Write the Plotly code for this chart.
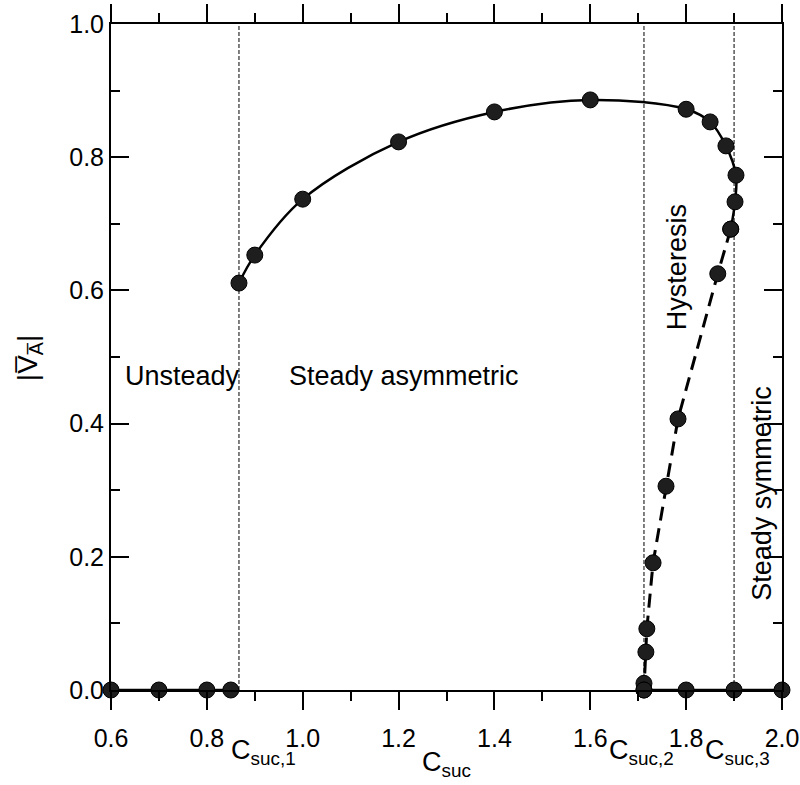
import plotly.graph_objects as go

# Stable asymmetric branch (solid curve)
asym_x = [0.867, 0.900, 1.000, 1.200, 1.400, 1.600, 1.800, 1.850, 1.883, 1.904, 1.902, 1.893]
asym_y = [0.611, 0.653, 0.737, 0.823, 0.868, 0.886, 0.872, 0.853, 0.817, 0.773, 0.733, 0.692]

# Hysteresis branch (dashed)
hyst_x = [1.893, 1.866, 1.783, 1.758, 1.731, 1.718, 1.716, 1.712, 1.712]
hyst_y = [0.692, 0.625, 0.407, 0.306, 0.191, 0.092, 0.057, 0.010, 0.000]

# Zero-amplitude branches
unsteady_x = [0.60, 0.70, 0.80, 0.85]
unsteady_y = [0.0, 0.0, 0.0, 0.0]
sym_x = [1.712, 1.80, 1.90, 2.00]
sym_y = [0.0, 0.0, 0.0, 0.0]

# Critical suction coefficients
crit_x = [0.867, 1.712, 1.900]
crit_labels = ["C<sub>suc,1</sub>", "C<sub>suc,2</sub>", "C<sub>suc,3</sub>"]

x_ticks = [0.6, 0.8, 1.0, 1.2, 1.4, 1.6, 1.8, 2.0]
y_ticks = [0.0, 0.2, 0.4, 0.6, 0.8, 1.0]

FONT = "Liberation Sans, Arial, sans-serif"
MK = dict(size=16, color="#1e1e1e", line=dict(color="#000", width=1))

fig = go.Figure()
fig.add_trace(go.Scatter(x=asym_x, y=asym_y, mode="lines+markers",
                         line=dict(color="black", width=2.5, shape="spline", smoothing=1.0),
                         marker=MK, cliponaxis=False))
fig.add_trace(go.Scatter(x=hyst_x, y=hyst_y, mode="lines+markers",
                         line=dict(color="black", width=3, dash="14px,8px"),
                         marker=MK, cliponaxis=False))
fig.add_trace(go.Scatter(x=unsteady_x, y=unsteady_y, mode="lines+markers",
                         line=dict(color="black", width=2.5), marker=MK, cliponaxis=False))
fig.add_trace(go.Scatter(x=sym_x, y=sym_y, mode="lines+markers",
                         line=dict(color="black", width=2.5), marker=MK, cliponaxis=False))

for cx in crit_x:
    fig.add_shape(type="line", x0=cx, x1=cx, y0=0, y1=1, xref="x", yref="y",
                  line=dict(color="black", width=1, dash="4px,2px"), layer="below")

# Regime labels inside the plot
annots = [
    dict(x=0.625, y=0.471, text="Unsteady", xanchor="left", textangle=0),
    dict(x=0.967, y=0.471, text="Steady asymmetric", xanchor="left", textangle=0),
    dict(x=1.781, y=0.635, text="Hysteresis", xanchor="center", textangle=-90),
    dict(x=1.958, y=0.296, text="Steady symmetric", xanchor="center", textangle=-90),
]
for a in annots:
    fig.add_annotation(x=a["x"], y=a["y"], text=a["text"], xanchor=a["xanchor"],
                       yanchor="middle", textangle=a["textangle"], showarrow=False,
                       font=dict(family=FONT, size=27, color="black"))

# Critical-value labels under the x axis (paper coordinates)
label_pos = [(0.227, -0.093), (0.791, -0.093), (0.934, -0.093)]
for (lx, ly), t in zip(label_pos, crit_labels):
    fig.add_annotation(x=lx, y=ly, xref="paper", yref="paper", text=t, showarrow=False,
                       xanchor="center", yanchor="middle",
                       font=dict(family=FONT, size=27, color="black"))

# Axis titles
fig.add_annotation(x=0.5007, y=-0.111, xref="paper", yref="paper", text="C<sub>suc</sub>",
                   showarrow=False, xanchor="center", yanchor="middle",
                   font=dict(family=FONT, size=27, color="black"))
fig.add_annotation(x=-0.121, y=0.498, xref="paper", yref="paper",
                   text="|V\u0305<sub>A\u0305</sub>|", showarrow=False,
                   textangle=-90, xanchor="center", yanchor="middle",
                   font=dict(family=FONT, size=28, color="black"))

fig.update_xaxes(range=[0.6, 2.0], tickvals=x_ticks, ticktext=[f"{v:.1f}" for v in x_ticks],
                 ticks="outside", ticklen=18, tickwidth=1.5, tickcolor="black",
                 ticklabelstandoff=7,
                 minor=dict(dtick=0.1, ticks="outside", ticklen=9, tickwidth=1.5, tickcolor="black"),
                 showline=True, linecolor="black", linewidth=2, mirror="ticks",
                 showgrid=False, zeroline=False, automargin=False,
                 tickfont=dict(family=FONT, size=25, color="black"))
fig.update_yaxes(range=[0, 1.0], tickvals=y_ticks, ticktext=[f"{v:.1f}" for v in y_ticks],
                 ticks="inside", ticklen=18, tickwidth=1.5, tickcolor="black",
                 minor=dict(dtick=0.1, ticks="inside", ticklen=9, tickwidth=1.5, tickcolor="black"),
                 showline=True, linecolor="black", linewidth=2, mirror="ticks",
                 showgrid=False, zeroline=False, automargin=False,
                 tickfont=dict(family=FONT, size=25, color="black"))

fig.update_layout(width=800, height=785, showlegend=False,
                  margin=dict(l=111, r=18, t=24, b=95),
                  plot_bgcolor="white", paper_bgcolor="white")

fig.write_html("out.html")
